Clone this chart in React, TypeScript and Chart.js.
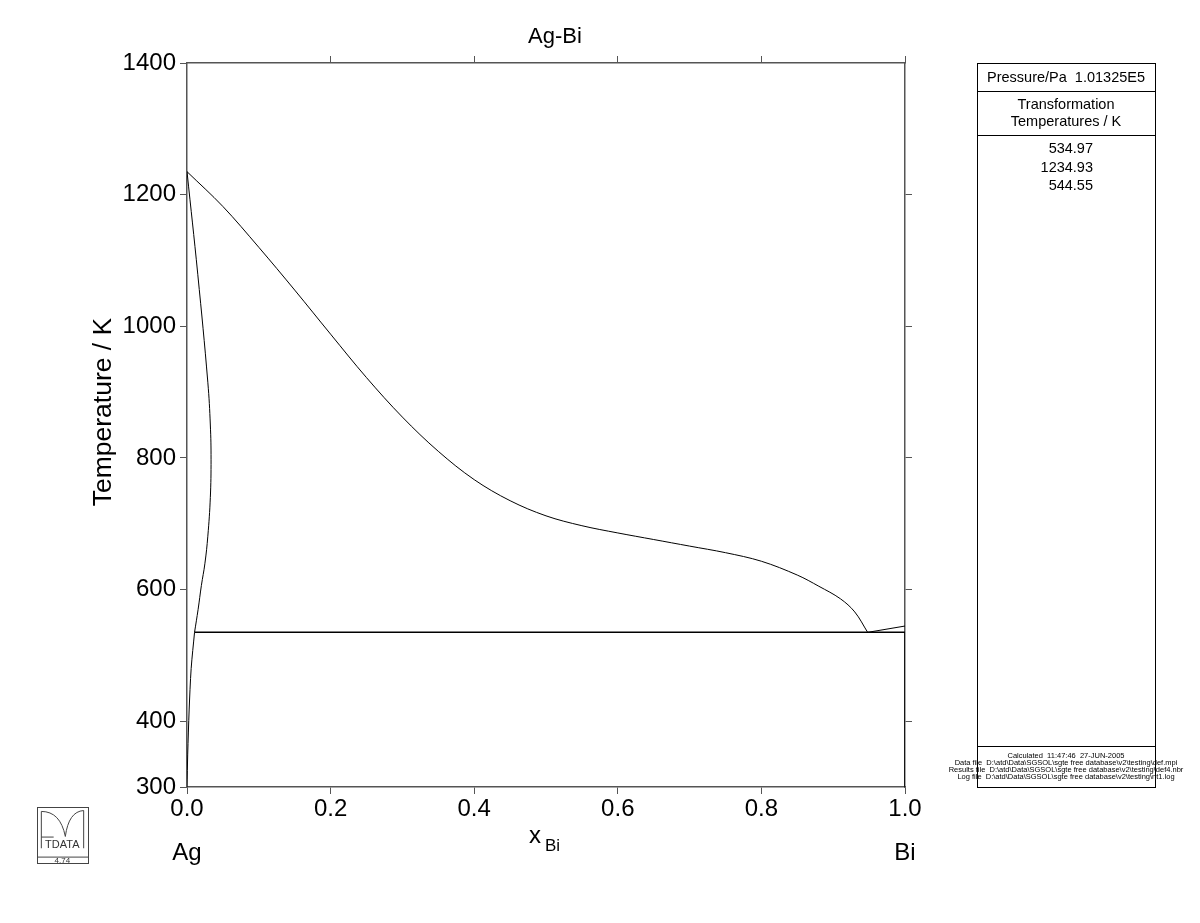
import React, { useEffect, useRef } from 'react';
import { Chart, registerables } from 'chart.js';

Chart.register(...registerables);

const FONT = '"Liberation Sans", Arial, Helvetica, sans-serif';

// Liquidus (Ag side) x_Bi, T/K
const liquidusX = [0, 0.05, 0.1, 0.15, 0.2, 0.25, 0.3, 0.35, 0.4, 0.45, 0.5, 0.55, 0.6, 0.65, 0.7, 0.75, 0.8, 0.85, 0.88, 0.91, 0.93, 0.948];
const liquidusT = [1234.93, 1182, 1120, 1055, 988, 922, 862, 810, 767, 735, 712, 697, 686, 676, 666, 656, 643, 622, 605, 586, 566, 534.97];
// Solidus of Ag-rich fcc
const solidusX = [0, 0.015, 0.029, 0.0325, 0.0335, 0.0325, 0.029, 0.025, 0.02, 0.0155, 0.0105];
const solidusT = [1234.93, 1079, 915, 850, 798, 740, 681, 640, 606, 570, 534.97];
// Solvus of Ag-rich fcc
const solvusX = [0.0105, 0.0058, 0.003, 0.001, 0];
const solvusT = [534.97, 480, 417, 350, 300];
// Bi-side liquidus
const biLiquidusX = [0.948, 1.0];
const biLiquidusT = [534.97, 544.55];
// Eutectic line
const eutecticX = [0.0105, 1.0];
const eutecticT = [534.97, 534.97];
// Pure Bi
const biSolidX = [1.0, 1.0];
const biSolidT = [534.97, 300];

const xTicks = [0, 0.2, 0.4, 0.6, 0.8, 1.0];
const xTopTicks = [0.2, 0.4, 0.6, 0.8, 1.0];
const yTicks = [300, 400, 600, 800, 1000, 1200, 1400];
const yRightTicks = [400, 600, 800, 1000, 1200];

const chartTitle = 'Ag-Bi';
const yTitle = 'Temperature / K';
const pressureText = 'Pressure/Pa  1.01325E5';
const transHeader = ['Transformation', 'Temperatures / K'];
const transformationTemps = ['534.97', '1234.93', '544.55'];
const footerLines = [
  'Calculated  11:47:46  27-JUN-2005',
  'Data file  D:\\atd\\Data\\SGSOL\\sgte free database\\v2\\testing\\def.mpi',
  'Results file  D:\\atd\\Data\\SGSOL\\sgte free database\\v2\\testing\\def4.nbr',
  'Log file  D:\\atd\\Data\\SGSOL\\sgte free database\\v2\\testing\\nt1.log',
];

const pts = (xs: number[], ts: number[]) => xs.map((x, i) => ({ x, y: ts[i] }));

const decorPlugin = {
  id: 'decor',
  afterDraw(chart: any) {
    const ctx = chart.ctx as CanvasRenderingContext2D;
    const ca = chart.chartArea;
    ctx.save();
    ctx.fillStyle = '#000';
    ctx.textAlign = 'center';
    ctx.textBaseline = 'middle';
    // title
    ctx.font = `22px ${FONT}`;
    ctx.fillText(chartTitle, 555, 37);
    // y title
    ctx.save();
    ctx.translate(104, 412);
    ctx.rotate(-Math.PI / 2);
    ctx.font = `26.5px ${FONT}`;
    ctx.fillText(yTitle, 0, 0);
    ctx.restore();
    // x title
    ctx.textAlign = 'left';
    ctx.textBaseline = 'alphabetic';
    ctx.font = `24px ${FONT}`;
    ctx.fillText('x', 529, 843);
    ctx.font = `17px ${FONT}`;
    ctx.fillText('Bi', 545, 851);
    // component labels
    ctx.textAlign = 'center';
    ctx.textBaseline = 'middle';
    ctx.font = `24px ${FONT}`;
    ctx.fillText('Ag', ca.left, 853);
    ctx.fillText('Bi', ca.right, 853);

    // legend box
    const bx = 977, by = 63, bw = 178, bh = 724;
    const cx = bx + bw / 2;
    ctx.font = `14.5px ${FONT}`;
    ctx.fillText(pressureText, cx, 78);
    ctx.fillText(transHeader[0], cx, 105);
    ctx.fillText(transHeader[1], cx, 122);
    ctx.textAlign = 'right';
    const rightEdge = cx + 27;
    transformationTemps.forEach((t, i) => ctx.fillText(t, rightEdge, 149 + i * 18.5));
    ctx.textAlign = 'center';
    ctx.font = `7.5px ${FONT}`;
    footerLines.forEach((t, i) => ctx.fillText(t, cx, 756 + i * 7));
    ctx.strokeStyle = '#000';
    ctx.lineWidth = 1;
    ctx.strokeRect(bx + 0.5, by + 0.5, bw, bh);
    const hline = (y: number) => {
      ctx.beginPath();
      ctx.moveTo(bx, y + 0.5);
      ctx.lineTo(bx + bw, y + 0.5);
      ctx.stroke();
    };
    hline(91);
    hline(135);
    hline(746);

    // logo
    const lx = 37, ly = 807, lw = 51, lh = 56;
    ctx.strokeStyle = '#444';
    ctx.strokeRect(lx + 0.5, ly + 0.5, lw, lh);
    const sx = lw / 153, sy = lh / 190;
    const P = (x: number, y: number): [number, number] => [lx + x * sx, ly + y * sy];
    ctx.beginPath();
    ctx.moveTo(...P(0, 170));
    ctx.lineTo(...P(153, 170));
    ctx.stroke();
    ctx.beginPath();
    ctx.moveTo(...P(13, 140));
    ctx.lineTo(...P(13, 15));
    ctx.quadraticCurveTo(...P(70, 15), ...P(85, 100));
    ctx.quadraticCurveTo(...P(95, 15), ...P(140, 12));
    ctx.lineTo(...P(140, 140));
    ctx.moveTo(...P(13, 102));
    ctx.lineTo(...P(50, 102));
    ctx.stroke();
    ctx.fillStyle = '#333';
    ctx.font = `11px ${FONT}`;
    ctx.textAlign = 'center';
    ctx.textBaseline = 'alphabetic';
    ctx.fillText('TDATA', ...P(76, 140));
    ctx.font = `8px ${FONT}`;
    ctx.textBaseline = 'middle';
    ctx.fillText('4.74', ...P(76, 181));
    ctx.restore();
  },
};

const lineDs = (label: string, data: any[], width = 1) => ({
  label,
  data,
  showLine: true,
  borderColor: '#000',
  borderWidth: width,
  pointRadius: 0,
  tension: 0,
  fill: false,
});

export default function App() {
  const ref = useRef<HTMLCanvasElement>(null);
  useEffect(() => {
    if (!ref.current) return;
    const axisColor = '#555';
    const gridCommon = { drawOnChartArea: false, drawTicks: true, tickLength: 7, color: axisColor, lineWidth: 1 };
    const chart = new Chart(ref.current, {
      type: 'scatter',
      data: {
        datasets: [
          { ...lineDs('Liquidus', pts(liquidusX, liquidusT)), tension: 0.35 },
          { ...lineDs('Solidus', pts(solidusX, solidusT)), tension: 0.4 },
          { ...lineDs('Solvus', pts(solvusX, solvusT)), tension: 0.3 },
          lineDs('Bi liquidus', pts(biLiquidusX, biLiquidusT)),
          lineDs('Eutectic', pts(eutecticX, eutecticT), 1.5),
          lineDs('Bi', pts(biSolidX, biSolidT), 1.5),
        ],
      },
      options: {
        responsive: false,
        animation: false,
        layout: { padding: 0 },
        plugins: { legend: { display: false }, title: { display: false }, tooltip: { enabled: false } },
        scales: {
          x: {
            type: 'linear', position: 'bottom', min: 0, max: 1,
            grid: gridCommon,
            border: { display: true, color: axisColor, width: 1.5 },
            ticks: { font: { family: FONT, size: 24 }, color: '#000', padding: 1, maxRotation: 0, callback: (v: any) => Number(v).toFixed(1) },
            afterBuildTicks: (s: any) => { s.ticks = xTicks.map((v) => ({ value: v })); },
            afterFit: (s: any) => { s.height = 136; },
          },
          x2: {
            type: 'linear', position: 'top', min: 0, max: 1,
            grid: gridCommon,
            border: { display: true, color: axisColor, width: 1.5 },
            ticks: { display: false },
            afterBuildTicks: (s: any) => { s.ticks = xTopTicks.map((v) => ({ value: v })); },
            afterFit: (s: any) => { s.height = 63; },
          },
          y: {
            type: 'linear', position: 'left', min: 300, max: 1400,
            grid: gridCommon,
            border: { display: true, color: axisColor, width: 1.5 },
            ticks: { font: { family: FONT, size: 24 }, color: '#000', padding: 4, callback: (v: any) => String(v) },
            afterBuildTicks: (s: any) => { s.ticks = yTicks.map((v) => ({ value: v })); },
            afterFit: (s: any) => { s.width = 187; },
          },
          y2: {
            type: 'linear', position: 'right', min: 300, max: 1400,
            grid: gridCommon,
            border: { display: true, color: axisColor, width: 1.5 },
            ticks: { display: false },
            afterBuildTicks: (s: any) => { s.ticks = yRightTicks.map((v) => ({ value: v })); },
            afterFit: (s: any) => { s.width = 295; },
          },
        },
      },
      plugins: [decorPlugin],
    } as any);
    return () => chart.destroy();
  }, []);
  return (
    <div style={{ position: 'absolute', left: 0, top: 0, width: 1200, height: 923, background: '#fff' }}>
      <canvas ref={ref} width={1200} height={923} />
    </div>
  );
}
